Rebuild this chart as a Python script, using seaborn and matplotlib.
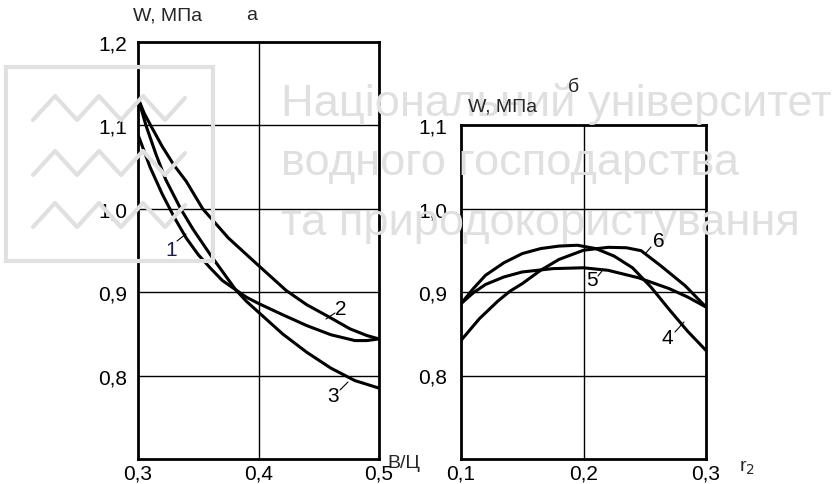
import matplotlib
matplotlib.use("Agg")
import matplotlib.pyplot as plt
import seaborn as sns
import pandas as pd
from matplotlib.lines import Line2D
from matplotlib.patches import Rectangle

# ---------------- data ----------------
# panel "а": W, MPa vs В/Ц
c1_x = [0.300, 0.310, 0.320, 0.330, 0.340, 0.350, 0.360, 0.370, 0.381, 0.390, 0.400, 0.420, 0.440, 0.460, 0.480, 0.490, 0.500]
c1_y = [1.089, 1.050, 1.018, 0.990, 0.965, 0.945, 0.929, 0.914, 0.903, 0.894, 0.8865, 0.873, 0.860, 0.849, 0.842, 0.842, 0.844]

c2_x = [0.300, 0.305, 0.3105, 0.320, 0.330, 0.340, 0.3537, 0.375, 0.400, 0.423, 0.440, 0.4577, 0.476, 0.490, 0.500]
c2_y = [1.133, 1.115, 1.100, 1.075, 1.052, 1.033, 1.000, 0.965, 0.932, 0.902, 0.885, 0.871, 0.856, 0.848, 0.844]

c3_x = [0.300, 0.3066, 0.315, 0.323, 0.3354, 0.3459, 0.360, 0.370, 0.381, 0.390, 0.400, 0.420, 0.440, 0.460, 0.480, 0.500]
c3_y = [1.133, 1.100, 1.065, 1.035, 1.000, 0.975, 0.945, 0.925, 0.903, 0.889, 0.876, 0.850, 0.828, 0.809, 0.794, 0.785]

# panel "б": W, MPa vs r2
c4_x = [0.100, 0.110, 0.120, 0.135, 0.150, 0.165, 0.180, 0.195, 0.210, 0.225, 0.240, 0.255, 0.270, 0.285, 0.300]
c4_y = [0.886, 0.904, 0.920, 0.935, 0.946, 0.952, 0.955, 0.956, 0.952, 0.943, 0.929, 0.906, 0.879, 0.853, 0.830]

c5_x = [0.100, 0.110, 0.120, 0.135, 0.150, 0.175, 0.200, 0.220, 0.245, 0.270, 0.285, 0.300]
c5_y = [0.886, 0.899, 0.909, 0.918, 0.924, 0.928, 0.929, 0.926, 0.917, 0.904, 0.894, 0.882]

c6_x = [0.100, 0.115, 0.130, 0.140, 0.150, 0.165, 0.180, 0.200, 0.220, 0.235, 0.247, 0.263, 0.283, 0.300]
c6_y = [0.842, 0.868, 0.889, 0.901, 0.910, 0.926, 0.939, 0.950, 0.9535, 0.953, 0.9495, 0.9315, 0.9075, 0.882]

left_xticks = [0.3, 0.4, 0.5]
left_xticklabels = ["0,3", "0,4", "0,5"]
left_yticks = [0.8, 0.9, 1.0, 1.1, 1.2]
left_yticklabels = ["0,8", "0,9", "1,0", "1,1", "1,2"]
right_xticks = [0.1, 0.2, 0.3]
right_xticklabels = ["0,1", "0,2", "0,3"]
right_yticks = [0.8, 0.9, 1.0, 1.1]
right_yticklabels = ["0,8", "0,9", "1,0", "1,1"]

# ---------------- styling ----------------
sns.set_style("white")
plt.rcParams["font.family"] = ["Liberation Sans", "DejaVu Sans"]

W, H = 834, 485
fig = plt.figure(figsize=(W / 100, H / 100), dpi=100)
fig.patch.set_facecolor("white")

def fx(px):
    return px / W

def fy(py):
    return 1 - py / H

FS = 15

# ---------------- watermark (behind everything) ----------------
wm_color = "#e0e0e0"
for txt, ypx in [("Національний університет", 104),
                 ("водного господарства", 164),
                 ("та природокористування", 224)]:
    fig.text(fx(281), fy(ypx), txt, fontsize=32.6, color=wm_color,
             ha="left", va="center", zorder=0)
fig.patches.append(Rectangle((fx(6), fy(262)), fx(213) - fx(6), fy(68) - fy(262),
                             transform=fig.transFigure, fill=False,
                             edgecolor=wm_color, lw=3, zorder=0))
for base in [121, 176, 228]:
    xs = [33, 55, 77, 99, 121, 143, 165, 185]
    ys = [base, base - 24, base, base - 24, base, base - 24, base, base - 22]
    fig.lines.append(Line2D([fx(v) for v in xs], [fy(v) for v in ys],
                            transform=fig.transFigure, color=wm_color,
                            lw=3, zorder=0))

# ---------------- axes ----------------
axL = fig.add_axes([fx(138), fy(460), fx(379) - fx(138), fy(43) - fy(460)])
axR = fig.add_axes([fx(461), fy(460), fx(706) - fx(461), fy(126) - fy(460)])

for ax in (axL, axR):
    ax.patch.set_alpha(0)
    for s in ax.spines.values():
        s.set_visible(True)
        s.set_color("black")
        s.set_linewidth(2)
    ax.tick_params(length=0, labelsize=FS, colors="black")

def draw(ax, xs, ys):
    df = pd.DataFrame({"x": xs, "y": ys})
    sns.lineplot(data=df, x="x", y="y", ax=ax, color="black", lw=2.2,
                 estimator=None, sort=True, zorder=5)

# left panel
draw(axL, c1_x, c1_y)
draw(axL, c2_x, c2_y)
draw(axL, c3_x, c3_y)
axL.set_xlim(0.3, 0.5)
axL.set_ylim(0.7, 1.2)
axL.set_xticks(left_xticks)
axL.set_xticklabels(left_xticklabels)
axL.set_yticks(left_yticks)
axL.set_yticklabels(left_yticklabels)
axL.tick_params(axis="y", pad=8)
axL.tick_params(axis="x", pad=3)
for v in [0.8, 0.9, 1.0, 1.1]:
    axL.axhline(v, color="black", lw=1, zorder=2)
axL.axvline(0.4, color="black", lw=1, zorder=2)
axL.set_xlabel("")
axL.set_ylabel("")

# right panel
draw(axR, c4_x, c4_y)
draw(axR, c5_x, c5_y)
draw(axR, c6_x, c6_y)
axR.set_xlim(0.1, 0.3)
axR.set_ylim(0.7, 1.1)
axR.set_xticks(right_xticks)
axR.set_xticklabels(right_xticklabels)
axR.set_yticks(right_yticks)
axR.set_yticklabels(right_yticklabels)
axR.tick_params(axis="y", pad=10)
axR.tick_params(axis="x", pad=3)
for v in [0.8, 0.9, 1.0]:
    axR.axhline(v, color="black", lw=1, zorder=2)
axR.axvline(0.2, color="black", lw=1, zorder=2)
axR.set_xlabel("")
axR.set_ylabel("")

# ---------------- texts ----------------
fig.text(fx(133), fy(16), "W, МПа", fontsize=14, ha="left", va="center")
fig.text(fx(252), fy(16), "а", fontsize=14, ha="center", va="center")
fig.text(fx(468), fy(107), "W, МПа", fontsize=14, ha="left", va="center")
fig.text(fx(573), fy(87), "б", fontsize=14, ha="center", va="center")
fig.text(fx(387), fy(464), "В/Ц", fontsize=14, ha="left", va="center")
fig.text(fx(739), fy(468), "r$_2$", fontsize=14, ha="left", va="center")

# curve labels with leader lines (pixel coords)
labels = [("1", 171, 251, (177, 242), (186, 235), "#1a1a60"),
          ("2", 341, 310, (335, 314), (326, 320), "black"),
          ("3", 333, 397, (340, 391), (348, 383), "black"),
          ("4", 667, 339, (675, 333), (684, 323), "black"),
          ("5", 592, 281, (598, 277), (602, 272), "black"),
          ("6", 659, 242, (651, 248), (645, 255), "black")]
for t, lx, ly, p0, p1, col in labels:
    fig.text(fx(lx), fy(ly), t, fontsize=15, ha="center", va="center", color=col)
    fig.lines.append(Line2D([fx(p0[0]), fx(p1[0])], [fy(p0[1]), fy(p1[1])],
                            transform=fig.transFigure, color="black", lw=0.8))

fig.savefig("out.png", dpi=100)
